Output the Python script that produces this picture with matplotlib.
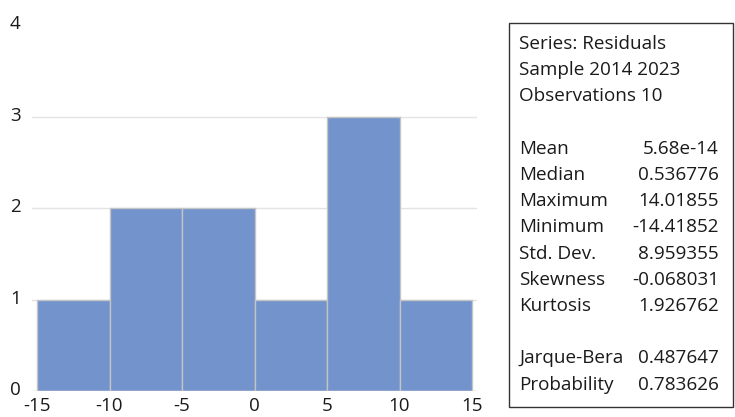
import matplotlib
matplotlib.use("Agg")
import matplotlib.pyplot as plt
from matplotlib.patches import Rectangle
import matplotlib.transforms as mtransforms

bin_edges = [-15, -10, -5, 0, 5, 10, 15]
counts = [1, 2, 2, 1, 3, 1]
x_ticks = [-15, -10, -5, 0, 5, 10, 15]
y_ticks = [0, 1, 2, 3, 4]
grid_levels = [1, 2, 3]

header_lines = ["Series: Residuals", "Sample 2014 2023", "Observations 10"]
stat_names = ["Mean", "Median", "Maximum", "Minimum", "Std. Dev.", "Skewness", "Kurtosis"]
stat_values = ["5.68e-14", "0.536776", "14.01855", "-14.41852", "8.959355", "-0.068031", "1.926762"]
test_names = ["Jarque-Bera", "Probability"]
test_values = ["0.487647", "0.783626"]

W, H = 735, 417
fig = plt.figure(figsize=(W / 100, H / 100), dpi=100)
FONT = "Open Sans"
txt_color = "#1a1a1a"

xpx0, xpx1 = 32, 477
ypx0, ypx1 = 391, 25
ax = fig.add_axes([xpx0 / W, 1 - ypx0 / H, (xpx1 - xpx0) / W, (ypx0 - ypx1) / H])
scale = (472 - 37) / 30.0
ax.set_xlim(-15 - 5 / scale, 15 + 5 / scale)
ax.set_ylim(0, 4)

for g in grid_levels:
    ax.axhline(g, color="#e4e4e4", lw=1.0, zorder=0)

widths = [bin_edges[i + 1] - bin_edges[i] for i in range(len(counts))]
ax.bar(bin_edges[:-1], counts, width=widths, align="edge", color="#7293CB",
       edgecolor="#c4c4c4", linewidth=1.0, zorder=2)
ax.axhline(0, color="#d0d0d0", lw=1.0, zorder=3)

for s in ax.spines.values():
    s.set_visible(False)
ax.set_xticks(x_ticks)
ax.set_xticklabels([str(v) for v in x_ticks], fontsize=13.5, family=FONT, color=txt_color)
ax.set_yticks(y_ticks)
ax.set_yticklabels([str(v) for v in y_ticks], fontsize=13.5, family=FONT, color=txt_color)
ax.tick_params(length=0)
ax.tick_params(axis="x", pad=4)
ax.tick_params(axis="y", pad=12)
offset = mtransforms.ScaledTranslation(0, 3 / 100, fig.dpi_scale_trans)
for lbl in ax.get_yticklabels():
    lbl.set_horizontalalignment("center")
    lbl.set_transform(lbl.get_transform() + offset)

bx0, bx1, by0, by1 = 509, 733, 23, 407
fig.patches.append(Rectangle((bx0 / W, 1 - by1 / H), (bx1 - bx0) / W, (by1 - by0) / H,
                             transform=fig.transFigure, fill=False, edgecolor="#333333",
                             linewidth=1.0))
lx, rx = 519 / W, 719 / W
step = 26.2
y = 44
fs = 13.6
for line in header_lines:
    fig.text(lx, 1 - y / H, line, fontsize=fs, family=FONT, color=txt_color, va="center", ha="left")
    y += step
y += step
for n, v in zip(stat_names, stat_values):
    fig.text(lx, 1 - y / H, n, fontsize=fs, family=FONT, color=txt_color, va="center", ha="left")
    fig.text(rx, 1 - y / H, v, fontsize=fs, family=FONT, color=txt_color, va="center", ha="right")
    y += step
y += step
for n, v in zip(test_names, test_values):
    fig.text(lx, 1 - y / H, n, fontsize=fs, family=FONT, color=txt_color, va="center", ha="left")
    fig.text(rx, 1 - y / H, v, fontsize=fs, family=FONT, color=txt_color, va="center", ha="right")
    y += step

fig.savefig("out.png", dpi=100)
